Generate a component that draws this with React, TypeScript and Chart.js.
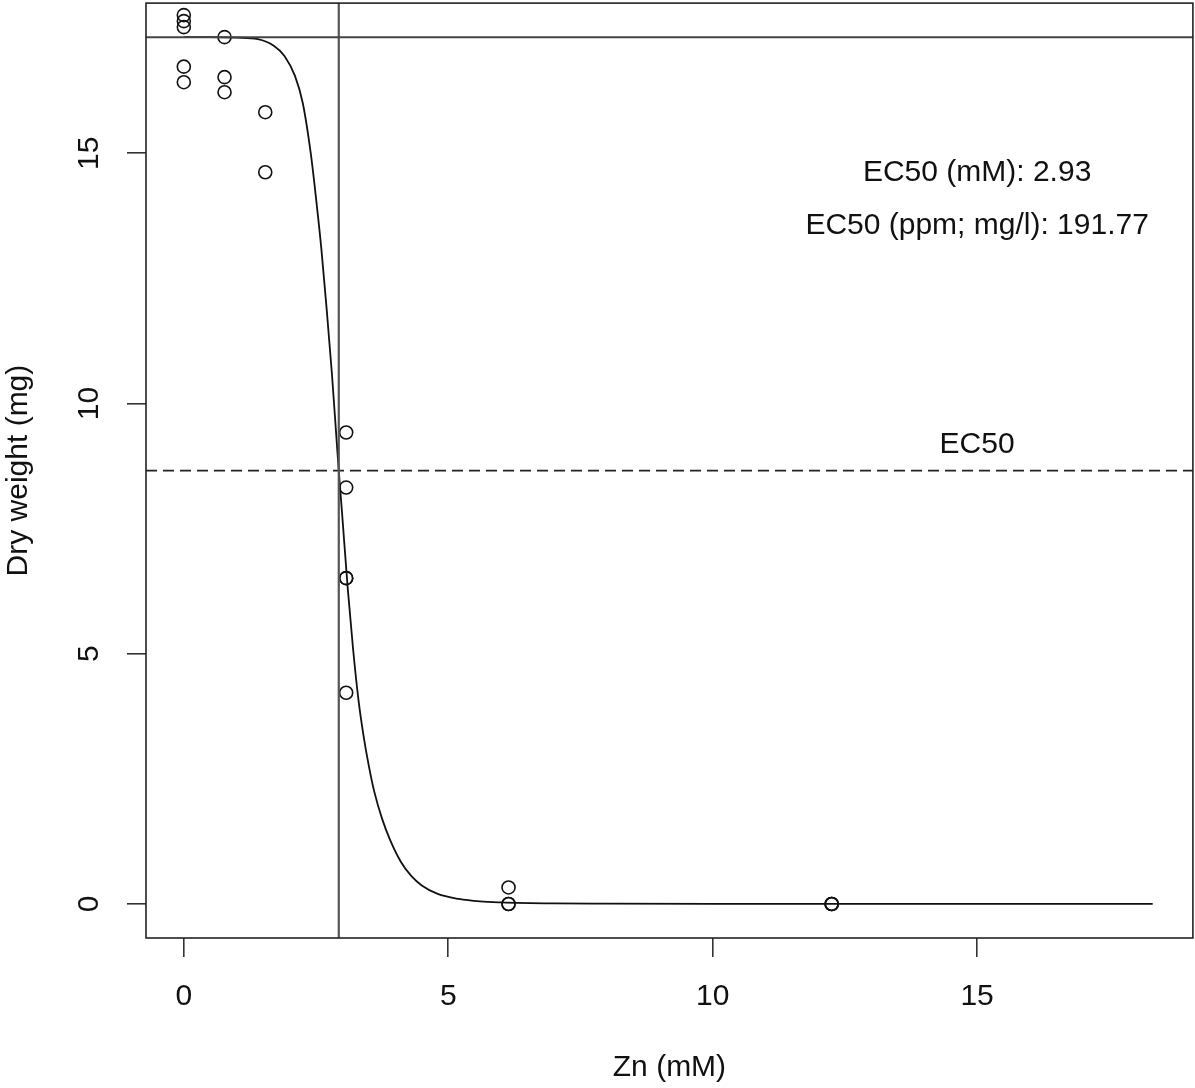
import React, { useEffect, useRef } from "react";
import { Chart, registerables } from "chart.js";

Chart.register(...registerables);

// Observed data points (Zn mM, dry weight mg)
const obsX = [0, 0, 0, 0, 0, 0.77, 0.77, 0.77, 1.54, 1.54, 3.07, 3.07, 3.07, 3.07, 3.07, 6.14, 6.14, 6.14, 12.25, 12.25, 12.25];
const obsY = [17.76, 17.64, 17.52, 16.73, 16.42, 17.32, 16.52, 16.22, 15.82, 14.62, 9.42, 8.32, 6.51, 6.51, 4.22, 0.33, 0.0, 0.0, 0.0, 0.0, 0.0];

// Fitted curve
const curveX = [0, 0.5, 1.0, 1.4, 1.7, 1.9, 2.1, 2.25, 2.4, 2.5, 2.6, 2.7, 2.8, 2.9, 2.93, 3.0, 3.1, 3.2, 3.3, 3.4, 3.5, 3.6, 3.75, 3.9, 4.1, 4.3, 4.5, 4.8, 5.2, 5.6, 6.0, 7, 8, 10, 12, 14, 16, 18.32];
const curveY = [17.32, 17.32, 17.31, 17.28, 17.15, 16.95, 16.55, 16.0, 15.0, 14.1, 13.1, 11.9, 10.6, 9.1, 8.66, 7.7, 6.3, 5.1, 4.1, 3.35, 2.75, 2.25, 1.7, 1.28, 0.85, 0.56, 0.37, 0.2, 0.1, 0.05, 0.03, 0.01, 0.005, 0, 0, 0, 0, 0];

const upperLimit = 17.32;
const ec50 = 2.93;
const ec50Level = 8.66;

const xTicks = [0, 5, 10, 15];
const yTicks = [0, 5, 10, 15];
const xRange = [-0.715, 19.08];
const yRange = [-0.68, 18.0];

const xTitle = "Zn (mM)";
const yTitle = "Dry weight (mg)";
const noteLines = ["EC50 (mM): 2.93", "EC50 (ppm; mg/l): 191.77"];
const ec50Label = "EC50";

const FONT = "'Liberation Sans', Arial, Helvetica, sans-serif";
const FS = 30;
const SHIFT = 5; // canvas is shifted up by this many px inside a clipping wrapper

export default function App() {
  const ref = useRef<HTMLCanvasElement | null>(null);

  useEffect(() => {
    document.body.style.margin = "0";
    const canvas = ref.current;
    if (!canvas) return;

    const overlay = {
      id: "overlay",
      afterDraw(chart: any) {
        const ctx = chart.ctx;
        const ca = chart.chartArea;
        const xs = chart.scales.x;
        const ys = chart.scales.y;
        ctx.save();
        // box
        ctx.strokeStyle = "#222";
        ctx.lineWidth = 1.6;
        ctx.strokeRect(ca.left, ca.top, ca.right - ca.left, ca.bottom - ca.top);

        ctx.fillStyle = "#111";
        ctx.font = `${FS}px ${FONT}`;
        // y tick labels rotated
        for (const v of yTicks) {
          const py = ys.getPixelForValue(v);
          ctx.save();
          ctx.translate(90, py);
          ctx.rotate(-Math.PI / 2);
          ctx.textAlign = "center";
          ctx.textBaseline = "middle";
          ctx.fillText(String(v), 0, 0);
          ctx.restore();
        }
        // axis titles
        ctx.textAlign = "center";
        ctx.textBaseline = "middle";
        ctx.fillText(xTitle, (ca.left + ca.right) / 2, 1068 + SHIFT);
        ctx.save();
        ctx.translate(19, (ca.top + ca.bottom) / 2);
        ctx.rotate(-Math.PI / 2);
        ctx.fillText(yTitle, 0, 0);
        ctx.restore();

        // annotations
        const tx = xs.getPixelForValue(15);
        ctx.fillText(noteLines[0], tx, ys.getPixelForValue(14.62));
        ctx.fillText(noteLines[1], tx, ys.getPixelForValue(13.55));
        ctx.fillText(ec50Label, tx, ys.getPixelForValue(9.17));
        ctx.restore();
      },
    };

    const chart = new Chart(canvas, {
      type: "scatter",
      data: {
        datasets: [
          {
            label: "upper",
            data: [{ x: xRange[0], y: upperLimit }, { x: xRange[1], y: upperLimit }],
            showLine: true,
            borderColor: "#444",
            borderWidth: 2,
            pointRadius: 0,
          },
          {
            label: "ec50v",
            data: [{ x: ec50, y: yRange[0] }, { x: ec50, y: yRange[1] }],
            showLine: true,
            borderColor: "#555",
            borderWidth: 2.2,
            pointRadius: 0,
          },
          {
            label: "ec50h",
            data: [{ x: xRange[0], y: ec50Level }, { x: xRange[1], y: ec50Level }],
            showLine: true,
            borderColor: "#222",
            borderWidth: 1.8,
            borderDash: [11, 6],
            pointRadius: 0,
          },
          {
            label: "curve",
            data: curveX.map((x, i) => ({ x, y: curveY[i] })),
            showLine: true,
            borderColor: "#111",
            borderWidth: 1.8,
            pointRadius: 0,
            cubicInterpolationMode: "monotone",
          },
          {
            label: "obs",
            data: obsX.map((x, i) => ({ x, y: obsY[i] })),
            showLine: false,
            pointRadius: 6.5,
            pointBorderWidth: 1.6,
            pointBorderColor: "#111",
            pointBackgroundColor: "rgba(0,0,0,0)",
            pointStyle: "circle",
          },
        ],
      },
      options: {
        responsive: false,
        animation: false,
        devicePixelRatio: 1,
        layout: { padding: 0 },
        plugins: { legend: { display: false }, tooltip: { enabled: false } },
        scales: {
          x: {
            type: "linear",
            min: xRange[0],
            max: xRange[1],
            afterBuildTicks: (s: any) => {
              s.ticks = xTicks.map((v) => ({ value: v }));
            },
            afterFit: (s: any) => {
              s.height = 150;
            },
            grid: {
              drawOnChartArea: false,
              drawTicks: true,
              tickLength: 19,
              color: "#333",
              lineWidth: 1.6,
            },
            border: { display: false },
            ticks: {
              color: "#111",
              font: { family: FONT, size: FS },
              padding: 22,
              maxRotation: 0,
              minRotation: 0,
            },
          },
          y: {
            type: "linear",
            min: yRange[0],
            max: yRange[1],
            afterBuildTicks: (s: any) => {
              s.ticks = yTicks.map((v) => ({ value: v }));
            },
            afterFit: (s: any) => {
              s.width = 146;
            },
            grid: {
              drawOnChartArea: false,
              drawTicks: true,
              tickLength: 19,
              color: "#333",
              lineWidth: 1.6,
            },
            border: { display: false },
            ticks: { display: false },
          },
        },
      },
      plugins: [overlay],
    });

    return () => chart.destroy();
  }, []);

  return (
    <div style={{ position: "relative", width: 1195, height: 1088, overflow: "hidden", background: "#fff" }}>
      <canvas
        ref={ref}
        width={1201}
        height={1088 + SHIFT}
        style={{ position: "absolute", left: 0, top: -SHIFT, width: 1201, height: 1088 + SHIFT }}
      />
    </div>
  );
}
